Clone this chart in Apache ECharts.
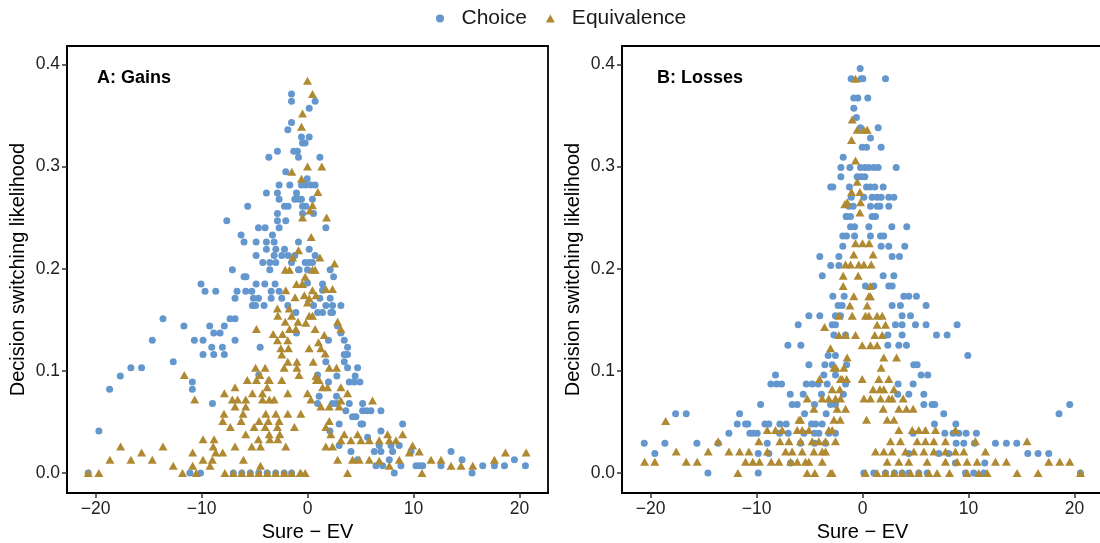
<!DOCTYPE html>
<html>
<head>
<meta charset="utf-8">
<script src="https://cdn.jsdelivr.net/npm/echarts@6/dist/echarts.min.js"></script>
<style>
  html, body { margin: 0; padding: 0; background: #ffffff; }
  #chart { width: 1100px; height: 543px; }
</style>
</head>
<body>
<div id="chart"></div>
<script>
// Tick positions and labels
const xTicks = [-20, -10, 0, 10, 20];
const yTicks = [0, 0.1, 0.2, 0.3, 0.4];
const panelNames = ['A: Gains', 'B: Losses'];
const seriesNames = ['Choice', 'Equivalence'];

// Panel A (gains): [Sure - EV, switching likelihood]
const gainsChoice = [
  [-1.51,0.371],[-1.51,0.364],[-1.51,0.343],[-1.86,0.336],[-1.3,0.315],[-0.95,0.315],[-2.84,0.315],[-3.65,0.309],[-0.85,0.309],
  [-2.05,0.295],[-1.67,0.282],[-2.68,0.282],[-3.88,0.274],[-2.84,0.274],[-1.04,0.274],[-2.68,0.268],[-1.2,0.268],[-2.17,0.261],
  [-1.83,0.261],[-5.64,0.261],[-2.84,0.254],[-7.62,0.247],[-2.84,0.247],[-2.05,0.247],[-4.63,0.24],[-4.0,0.24],[-2.68,0.24],
  [-6.27,0.233],[-3.31,0.233],[-5.99,0.226],[-4.85,0.226],[-3.88,0.226],[-3.15,0.226],[-0.85,0.226],[-3.88,0.219],[-2.99,0.219],
  [-2.17,0.219],[-4.85,0.213],[-3.15,0.213],[-2.43,0.213],[-1.83,0.213],[-1.2,0.213],[-4.22,0.206],[-3.56,0.206],[-2.99,0.206],
  [-1.51,0.206],[-7.09,0.199],[-3.56,0.199],[-0.85,0.199],[-5.99,0.192],[-5.8,0.192],
  [0.72,0.364],[0.16,0.357],[-0.57,0.329],[0.16,0.329],[-0.47,0.323],[-0.22,0.323],[1.17,0.309],[-0.03,0.288],[-0.57,0.282],
  [-0.16,0.282],[0.32,0.282],[0.72,0.282],[-0.79,0.268],[-0.57,0.268],[0.47,0.268],[-0.47,0.261],[-0.16,0.261],[0.57,0.254],
  [-0.47,0.254],[1.73,0.24],[0.16,0.219],[0.72,0.213],[-0.22,0.206],[0.16,0.206],[0.47,0.206],[-0.79,0.199],[0,0.199],
  [2.14,0.199],[2.46,0.192],
  [-10.05,0.185],[-9.67,0.178],[-8.66,0.178],[-6.84,0.171],[-6.65,0.178],[-5.83,0.178],[-5.26,0.178],[-4.85,0.185],[-4.03,0.185],
  [-3.06,0.185],[-3.43,0.178],[-2.68,0.178],[-5.1,0.171],[-4.63,0.171],[-3.43,0.171],[-2.43,0.171],[-5.2,0.164],[-4.9,0.164],
  [-4.1,0.164],[-1.86,0.164],[-1.1,0.157],[-13.64,0.151],[-11.66,0.144],[-9.23,0.144],[-7.85,0.144],[-7.31,0.151],[-6.84,0.151],
  [-8.85,0.137],[-8.25,0.137],[-14.65,0.13],[-10.68,0.13],[-9.86,0.13],[-6.84,0.13],[-9.04,0.123],[-8.03,0.123],[-4.47,0.123],
  [-9.86,0.116],[-8.85,0.116],[-7.85,0.116],[-1.04,0.137],[-12.67,0.109],[-16.67,0.103],[-15.66,0.103],[-17.67,0.095],
  [-10.87,0.089],[-10.87,0.082],[-18.68,0.082],[-4.6,0.096],[-8.97,0.068],[-19.69,0.041],
  [-20.7,0],[-11.1,0],[-10.1,0],[-7.0,0],[-6.2,0],[-5.4,0],[-4.6,0],[-3.8,0],[-3.0,0],[-2.2,0],[-1.5,0],
  [0,0.186],[1.42,0.185],[1.42,0.179],[1.17,0.171],[2.14,0.171],[0.57,0.164],[1.73,0.164],[2.36,0.164],[3.15,0.164],[0.95,0.157],
  [1.42,0.157],[2.2,0.157],[2.36,0.157],[2.84,0.144],[3.15,0.137],[1.98,0.13],[3.47,0.13],[3.78,0.123],[3.47,0.116],[3.78,0.116],
  [1.73,0.109],[3.47,0.109],[3.78,0.103],[4.73,0.103],[2.77,0.095],[4.5,0.095],[1.98,0.089],[3.94,0.089],[4.41,0.089],
  [4.95,0.089],[0.95,0.096],[1.1,0.075],[2.74,0.075],[2.36,0.068],[2.74,0.068],[3.94,0.068],[5.2,0.068],[3.62,0.061],
  [5.2,0.061],[5.58,0.061],[5.99,0.061],[6.93,0.061],[0.95,0.068],[4.25,0.055],[4.57,0.055],[2.99,0.048],[5.04,0.048],
  [5.2,0.048],[8.98,0.048],[2.11,0.041],[6.93,0.041],[5.67,0.035],[2.99,0.027],[6.77,0.027],[7.88,0.027],[8.66,0.027],
  [4.1,0.021],[6.3,0.021],[6.93,0.021],[8.03,0.021],[9.77,0.021],[13.55,0.021],[4.73,0.013],[7.72,0.013],[14.59,0.013],
  [19.53,0.013],[6.46,0.007],[7.09,0.007],[8.82,0.007],[10.24,0.007],[10.55,0.007],[10.87,0.007],[12.6,0.007],[16.54,0.007],
  [17.64,0.007],[18.59,0.007],[20.57,0.007],[8.19,0],[15.53,0]
];

const gainsEquivalence = [
  [-1.48,0.295],[-0.85,0.218],[-1.4,0.211],[-2.1,0.199],[-1.7,0.199],
  [0,0.384],[0.47,0.371],[-0.47,0.352],[-0.57,0.339],[0,0.3],[1.35,0.3],[-0.57,0.288],[0.98,0.275],[0.47,0.262],[0.22,0.257],
  [-0.47,0.25],[1.8,0.25],[0.35,0.231],[1.17,0.211],[2.55,0.205],[0.47,0.199],[0.72,0.199],[-0.22,0.192],
  [-1.04,0.185],[-0.5,0.185],[-2.05,0.179],[-1.17,0.172],[-2.84,0.161],[-1.73,0.161],[-2.8,0.154],[-1.5,0.154],[-2.1,0.148],
  [-0.9,0.148],[-1.7,0.141],[-1.1,0.141],[-4.82,0.141],[-3.24,0.136],[-2.36,0.136],[-2.84,0.13],[-1.86,0.13],[-2.52,0.122],
  [-1.8,0.122],[-2.43,0.116],[-1.86,0.109],[-1.0,0.109],[-2.2,0.103],[-1.0,0.103],[-4.9,0.103],[-4.0,0.103],[-0.8,0.096],
  [-4.5,0.096],[-3.6,0.091],[-11.63,0.096],[-5.68,0.091],[-4.82,0.091],[-3.7,0.091],[-2.43,0.091],[-6.84,0.084],[-3.8,0.084],
  [-7.85,0.078],[-5.2,0.078],[-4.25,0.078],[-1.86,0.078],[-10.65,0.072],[-7.1,0.072],[-6.6,0.072],[-5.83,0.072],[-4.25,0.072],
  [-3.6,0.072],[-3.15,0.072],[-6.84,0.065],[-5.83,0.065],[-7.88,0.058],[-6.08,0.058],[-3.94,0.058],[-2.99,0.058],[-1.86,0.058],
  [-8.0,0.051],[-6.27,0.051],[-4.57,0.051],[-3.7,0.051],[-2.68,0.051],[-7.28,0.045],[-5.04,0.045],[-4.0,0.045],[-2.84,0.045],
  [-1.23,0.045],[-5.83,0.038],[-3.62,0.038],[-2.62,0.038],[-9.86,0.033],[-8.82,0.033],[-4.63,0.033],[-3.56,0.033],[-2.8,0.033],
  [-13.64,0.026],[-17.64,0.026],[-8.9,0.026],[-6.84,0.026],[-5.26,0.026],[-4.44,0.026],[-2.05,0.026],[-18.65,0.013],
  [-16.67,0.013],[-15.66,0.02],[-14.65,0.013],[-10.84,0.02],[-8.66,0.02],[-8.0,0.02],[-9.86,0.013],[-8.98,0.013],[-6.05,0.013],
  [-12.67,0.007],[-10.84,0.007],[-9.2,0.007],[-4.44,0.007],
  [-20.7,0],[-19.69,0],[-11.8,0],[-10.5,0],[-7.8,0],[-7.0,0],[-6.2,0],[-5.4,0],[-4.6,0],[-3.8,0],[-3.0,0],[-2.2,0],[-1.5,0],[-0.7,0],
  [-0.47,0.185],[0.47,0.179],[1.73,0.18],[2.36,0.18],[-0.3,0.174],[0.16,0.171],[0.8,0.174],[0,0.167],[0.16,0.154],[0.47,0.154],
  [0.72,0.141],[-0.16,0.147],[2.84,0.148],[3.15,0.141],[1.58,0.135],[1.04,0.128],[0.16,0.122],[1.26,0.122],[1.67,0.117],
  [0.54,0.109],[2.05,0.103],[2.74,0.103],[0.79,0.095],[0.85,0.091],[1.1,0.091],[1.42,0.084],[1.89,0.084],[3.15,0.084],
  [3.78,0.078],[0,0.078],[0.32,0.072],[1.26,0.065],[2.05,0.065],[2.99,0.065],[3.15,0.071],[-0.63,0.058],[2.05,0.051],
  [1.73,0.045],[2.2,0.038],[3.47,0.038],[4.73,0.038],[6.14,0.071],[7.56,0.038],[8.98,0.038],
  [3.15,0.032],[4.1,0.032],[5.04,0.032],[5.83,0.032],[6.77,0.032],[7.72,0.032],[8.35,0.032],[1.73,0.026],[2.36,0.026],
  [9.92,0.027],[10.55,0.021],[11.66,0.013],[12.6,0.013],[13.55,0.007],[14.49,0.007],[15.6,0.007],[17.64,0.013],[18.68,0.02],
  [20.64,0.02],[2.84,0.013],[4.25,0.013],[4.88,0.013],[5.83,0.013],[6.77,0.012],[7.72,0.007],[8.66,0.013],[9.61,0.02],
  [3.78,0],[10.8,0],[-0.63,0],[-0.22,0]
];

// Panel B (losses)
const lossesChoice = [
  [-1.82,0.309],[-2.04,0.299],[-2.04,0.29],[-3.0,0.28],[-2.8,0.28],[-1.54,0.251],[-1.86,0.232],[-1.86,0.222],[-4.03,0.212],
  [-2.23,0.212],[-3.0,0.203],[-2.23,0.203],[-3.8,0.193],[-2.8,0.173],[-1.73,0.173],
  [-0.22,0.396],[-1.07,0.386],[-0.13,0.386],[0.03,0.386],[2.17,0.386],[-0.82,0.367],[-0.44,0.367],[0.5,0.367],[-0.82,0.357],
  [-0.57,0.348],[-0.19,0.338],[1.48,0.338],[0.75,0.328],[-0.03,0.319],[0.38,0.319],[1.76,0.319],[-1.19,0.299],[-0.19,0.299],
  [0.22,0.299],[0.6,0.299],[1.07,0.299],[1.48,0.299],[3.18,0.299],[-0.5,0.29],[-0.13,0.29],[0.22,0.29],[-1.23,0.28],[0.38,0.28],
  [0.75,0.28],[1.16,0.28],[1.95,0.28],[-1.07,0.27],[0.13,0.27],[0.91,0.27],[1.38,0.27],[1.76,0.27],[2.48,0.27],[2.96,0.27],
  [-1.29,0.261],[-0.88,0.261],[0.75,0.261],[1.38,0.261],[1.64,0.261],[2.48,0.261],[-1.51,0.251],[-1.13,0.251],[0.91,0.251],
  [1.23,0.251],[-1.13,0.241],[-0.75,0.241],[0.6,0.241],[2.77,0.241],[4.18,0.241],[-1.51,0.232],[-0.75,0.232],[0.75,0.232],
  [1.7,0.232],[2.0,0.232],[1.76,0.222],[2.48,0.222],[3.99,0.222],[2.8,0.212],[3.49,0.212],[1.95,0.193],[2.96,0.193],
  [0.28,0.183],[1.07,0.183],[2.48,0.183],[2.8,0.183],[3.9,0.173],[4.37,0.173],[5.09,0.173],
  [-2.3,0.164],[-1.92,0.164],[-5.06,0.154],[-4.03,0.154],[-2.55,0.154],[-2.08,0.154],[-6.07,0.145],[-2.86,0.145],[-2.55,0.145],
  [-2.7,0.135],[-7.04,0.125],[-5.82,0.125],[-3.24,0.115],[-2.55,0.115],[-5.06,0.106],[-3.55,0.106],[-2.86,0.106],[-3.65,0.096],
  [-2.55,0.096],[-8.21,0.096],[-8.65,0.087],[-8.11,0.087],[-7.64,0.087],[-5.31,0.087],[-4.75,0.087],[-4.18,0.087],[-3.33,0.087],
  [-6.82,0.077],[-5.6,0.077],[-3.87,0.077],[-6.64,0.067],[-6.16,0.067],[-4.53,0.067],[-3.02,0.067],[-2.55,0.067],[-9.62,0.067],
  [-17.64,0.058],[-16.64,0.058],[-11.6,0.058],[-5.47,0.058],[-3.43,0.058],[-11.82,0.048],[-11.04,0.048],[-10.82,0.048],
  [-9.21,0.048],[-8.84,0.048],[-7.8,0.048],[-7.2,0.048],[-4.81,0.048],[-4.43,0.048],[-3.81,0.048],[-12.61,0.039],[-10.63,0.039],
  [-10.31,0.039],[-9.94,0.039],[-7.83,0.039],[-7.01,0.039],[-5.53,0.039],[-4.53,0.039],[-4.12,0.039],[-3.18,0.039],[-2.55,0.039],
  [-20.6,0.029],[-18.65,0.029],[-15.63,0.029],[-13.62,0.029],[-8.99,0.029],[-5.85,0.029],[-4.53,0.029],[-3.49,0.029],
  [-19.6,0.019],[-9.84,0.019],[-8.84,0.019],[-6.79,0.0098],[-14.59,0],[-9.84,0],[-1.6,0.087],[-1.8,0.077],[-1.5,0.106],
  [2.8,0.164],[3.58,0.164],[6.0,0.164],[3.74,0.154],[4.53,0.154],[3.11,0.145],[3.74,0.145],[5.0,0.145],[6.0,0.145],[8.93,0.145],
  [-1.6,0.135],[2.39,0.135],[3.74,0.135],[6.98,0.135],[7.99,0.135],[2.39,0.125],[3.43,0.125],[4.15,0.125],[9.94,0.115],
  [4.84,0.106],[5.16,0.106],[5.53,0.096],[6.16,0.096],[3.36,0.087],[4.78,0.087],[3.33,0.077],[4.37,0.077],[5.79,0.077],
  [5.79,0.067],[6.57,0.067],[6.82,0.067],[19.56,0.067],[7.67,0.058],[18.55,0.058],[6.79,0.048],[8.81,0.048],[4.78,0.039],
  [7.77,0.039],[8.55,0.039],[9.09,0.039],[9.78,0.039],[10.75,0.039],[8.84,0.029],[9.56,0.029],[10.57,0.029],[12.55,0.029],
  [13.58,0.029],[14.56,0.029],[4.37,0.019],[7.2,0.019],[8.14,0.019],[15.6,0.019],[16.57,0.019],[17.58,0.019],[8.77,0.0098],
  [11.54,0.0098],[0.13,0],[1.07,0],[2.17,0],[3.02,0],[3.74,0],[4.37,0],[5.31,0],[6.1,0],[9.72,0],[10.5,0],[11.45,0],[20.57,0]
];

const lossesEquivalence = [
  [-1.67,0.263],
  [-0.66,0.386],[-0.97,0.346],[-0.5,0.336],[0.13,0.336],[0.44,0.336],[-1.04,0.326],[-0.66,0.306],[-0.5,0.285],[-1.04,0.275],
  [-0.25,0.275],[-1.45,0.265],[-0.19,0.265],[-0.25,0.255],[-0.66,0.225],[0,0.225],[0.63,0.225],[-0.82,0.214],[1.0,0.214],
  [-1.6,0.204],[-1.13,0.204],[-0.35,0.204],[0.13,0.204],[0.82,0.204],[-1.82,0.193],[-0.41,0.193],[-1.82,0.183],[0.75,0.183],
  [-0.82,0.173],[0.6,0.173],[0.75,0.173],
  [-3.58,0.143],[-3.02,0.122],[-2.7,0.103],[-2.5,0.103],[-4.06,0.092],[-1.92,0.092],[-2.86,0.082],[-2.14,0.082],[-5.22,0.073],
  [-3.8,0.073],[-3.18,0.073],[-2.55,0.073],[-2.08,0.073],[-4.59,0.063],[-2.39,0.063],[-2.7,0.052],[-2.1,0.052],[-18.58,0.051],
  [-6.0,0.052],[-5.85,0.052],[-8.99,0.042],[-8.21,0.042],[-7.58,0.042],[-6.16,0.042],[-5.69,0.042],[-5.06,0.042],[-3.18,0.042],
  [-2.86,0.042],[-9.78,0.031],[-7.8,0.031],[-6.95,0.031],[-5.85,0.031],[-4.75,0.031],[-4.12,0.031],[-3.49,0.031],[-2.55,0.031],
  [-13.62,0.031],[-17.58,0.021],[-14.56,0.021],[-12.61,0.021],[-11.6,0.021],[-10.72,0.021],[-8.99,0.021],[-7.26,0.021],
  [-6.64,0.021],[-5.69,0.021],[-4.59,0.021],[-3.8,0.021],[-3.49,0.021],[-20.57,0.011],[-19.6,0.011],[-16.64,0.011],
  [-15.6,0.011],[-11.04,0.011],[-10.35,0.011],[-9.72,0.011],[-8.62,0.011],[-7.89,0.011],[-6.79,0.011],[-6.16,0.011],
  [-5.38,0.011],[-5.06,0.011],[-3.8,0.011],[-11.76,0],[-5.22,0],[-4.5,0],[-3.02,0],[-2.86,0],[-2.23,0.154],[-2.23,0.135],
  [-2.08,0.092],
  [-1.19,0.164],[0.44,0.164],[-0.97,0.154],[0.28,0.154],[0.6,0.154],[1.38,0.154],[1.86,0.154],[1.38,0.145],[2.17,0.145],
  [-1.6,0.135],[-0.66,0.135],[1.16,0.135],[1.86,0.135],[-0.03,0.125],[0.75,0.125],[1.38,0.125],[-1.45,0.113],[2.01,0.113],
  [3.21,0.113],[1.76,0.103],[-1.76,0.103],[-1.5,0.092],[-0.03,0.092],[1.54,0.092],[2.48,0.092],[1.0,0.082],[1.64,0.082],
  [2.01,0.082],[2.96,0.082],[0.13,0.073],[0.75,0.073],[1.7,0.073],[2.48,0.073],[2.8,0.073],[3.84,0.073],[-1.6,0.063],
  [1.95,0.063],[3.43,0.063],[4.15,0.063],[4.78,0.063],[0.38,0.052],[2.33,0.052],[2.96,0.052],[3.43,0.042],[4.69,0.042],
  [5.31,0.042],[5.94,0.042],[6.89,0.042],[8.77,0.042],[2.64,0.031],[3.58,0.031],[5.16,0.031],[5.94,0.031],[6.73,0.031],
  [7.83,0.031],[10.66,0.031],[15.53,0.031],[1.23,0.021],[2.01,0.021],[2.8,0.021],[4.06,0.021],[4.84,0.021],[5.79,0.021],
  [6.73,0.021],[7.83,0.021],[8.77,0.021],[9.56,0.021],[11.6,0.021],[2.33,0.011],[3.43,0.011],[4.37,0.011],[6.1,0.011],
  [7.83,0.011],[8.93,0.011],[9.87,0.011],[10.82,0.011],[12.55,0.011],[13.58,0.011],[17.58,0.011],[18.62,0.011],[19.56,0.011],
  [0.28,0],[1.38,0],[2.17,0],[2.96,0],[3.74,0],[4.53,0],[5.31,0],[6.26,0],[7.04,0],[8.21,0],[9.87,0],[10.97,0],[11.76,0],
  [14.59,0],[16.57,0],[20.57,0]
];

const blue = '#6497CD';
const gold = '#B08A32';
const font = 'Liberation Sans, Arial, sans-serif';

const chart = echarts.init(document.getElementById('chart'), null, { renderer: 'canvas' });

const gridBase = {
  top: 46, width: 481, height: 447, show: true,
  borderColor: '#000', borderWidth: 1.8, backgroundColor: 'rgba(0,0,0,0)',
  containLabel: false, outerBoundsMode: 'none'
};
const minus = v => (v < 0 ? '\u2212' + Math.abs(v) : String(v));

function xAxisFor(i) {
  return {
    type: 'value', gridIndex: i, min: -22.7, max: 22.7,
    axisLine: { show: true, onZero: false, lineStyle: { color: '#000', width: 1.8 } },
    splitLine: { show: false },
    axisTick: { show: true, length: 5, customValues: xTicks, lineStyle: { color: '#333', width: 1.5 } },
    axisLabel: { customValues: xTicks, formatter: minus, fontSize: 17.5, color: '#222', margin: 7, fontFamily: font },
    name: 'Sure \u2212 EV', nameLocation: 'middle', nameGap: 23,
    nameTextStyle: { fontSize: 20, color: '#000', fontFamily: font }
  };
}
function yAxisFor(i) {
  return {
    type: 'value', gridIndex: i, min: -0.0196, max: 0.418,
    axisLine: { show: true, onZero: false, lineStyle: { color: '#000', width: 1.8 } },
    splitLine: { show: false },
    axisTick: { show: true, length: 5, customValues: yTicks, lineStyle: { color: '#333', width: 1.5 } },
    axisLabel: { customValues: yTicks, formatter: v => v.toFixed(1), fontSize: 17.5, color: '#222', margin: 7, fontFamily: font },
    name: 'Decision switching likelihood', nameLocation: 'middle', nameGap: 39,
    nameTextStyle: { fontSize: 20, color: '#000', fontFamily: font }
  };
}
function scatter(name, data, i, isTri) {
  return {
    type: 'scatter', name: name, xAxisIndex: i, yAxisIndex: i, data: data,
    symbol: isTri ? 'triangle' : 'circle',
    symbolSize: isTri ? [9, 8] : 7,
    itemStyle: { color: isTri ? gold : blue, opacity: 1 },
    silent: true
  };
}

chart.setOption({
  animation: false,
  backgroundColor: '#ffffff',
  textStyle: { fontFamily: font },
  legend: {
    left: 431, top: 3, itemWidth: 9, itemHeight: 8, itemGap: 19,
    data: [{ name: seriesNames[0], icon: 'circle' }, { name: seriesNames[1], icon: 'triangle' }],
    textStyle: { fontSize: 21, color: '#1a1a1a', fontFamily: font, padding: [0, 0, 0, 12] }
  },
  grid: [Object.assign({ left: 67 }, gridBase), Object.assign({ left: 622 }, gridBase)],
  xAxis: [xAxisFor(0), xAxisFor(1)],
  yAxis: [yAxisFor(0), yAxisFor(1)],
  series: [
    scatter(seriesNames[0], gainsChoice, 0, false),
    scatter(seriesNames[1], gainsEquivalence, 0, true),
    scatter(seriesNames[0], lossesChoice, 1, false),
    scatter(seriesNames[1], lossesEquivalence, 1, true)
  ],
  graphic: [
    { type: 'text', left: 97, top: 69, style: { text: panelNames[0], fontSize: 18, fontWeight: 'bold', fill: '#000', fontFamily: font } },
    { type: 'text', left: 657, top: 69, style: { text: panelNames[1], fontSize: 18, fontWeight: 'bold', fill: '#000', fontFamily: font } }
  ]
});
</script>
</body>
</html>
